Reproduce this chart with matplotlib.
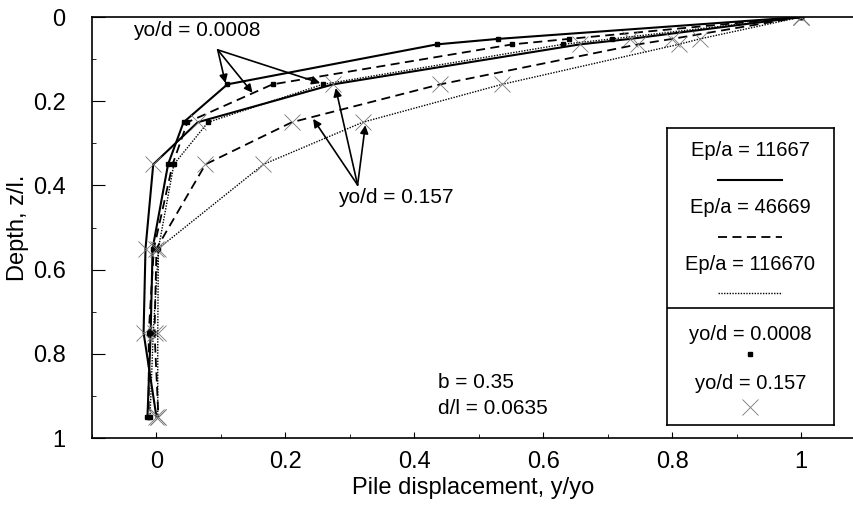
import numpy as np
import matplotlib
matplotlib.use("Agg")
import matplotlib.pyplot as plt
from matplotlib.ticker import MultipleLocator

plt.rcParams['font.family'] = ['Liberation Sans', 'DejaVu Sans']

# normalised depth of the nodes, z/l
depth = [0, 0.052, 0.065, 0.16, 0.25, 0.35, 0.55, 0.75, 0.95]

# pile displacement y/yo, yo/d = 0.0008 (square markers)
disp_11667_small = [1.0, 0.53, 0.435, 0.11, 0.042, 0.018, -0.006, -0.009, -0.014]
disp_46669_small = [1.0, 0.64, 0.552, 0.18, 0.048, 0.025, -0.004, -0.012, -0.012]
disp_116670_small = [1.0, 0.707, 0.63, 0.258, 0.08, 0.027, 0.003, -0.005, -0.01]

# pile displacement y/yo, yo/d = 0.157 (x markers)
disp_11667_large = [1.0, 0.735, 0.657, 0.274, 0.064, -0.005, -0.017, -0.02, 0.0]
disp_46669_large = [1.0, 0.80, 0.747, 0.44, 0.21, 0.076, 0.0, -0.003, 0.003]
disp_116670_large = [1.0, 0.843, 0.81, 0.536, 0.32, 0.166, 0.003, 0.002, 0.002]

ep_labels = ["Ep/a = 11667", "Ep/a = 46669", "Ep/a = 116670"]
yo_labels = ["yo/d = 0.0008", "yo/d = 0.157"]

styles = [dict(linestyle='-', lw=1.5),
          dict(linestyle=(0, (5, 3)), lw=1.3),
          dict(linestyle=(0, (1, 1)), lw=1.0)]
sq_kw = dict(marker='s', markersize=3.5, markerfacecolor='k', markeredgecolor='k')
x_kw = dict(marker='x', markersize=11, markeredgecolor='#777777', markeredgewidth=0.6)

fig = plt.figure(figsize=(8.54, 5.11), dpi=100)
ax = fig.add_axes([92/854, 1-438/511, 1-92/854, 421/511])

small = [disp_11667_small, disp_46669_small, disp_116670_small]
large = [disp_11667_large, disp_46669_large, disp_116670_large]
for st, xs in zip(styles, small):
    ax.plot(xs, depth, color='k', **st, **sq_kw)
for st, xs in zip(styles, large):
    ax.plot(xs, depth, color='k', **st, **x_kw)

ax.set_xlim(-0.1, 1.082)
ax.set_ylim(1, 0)
ax.xaxis.set_minor_locator(MultipleLocator(0.1))
ax.yaxis.set_minor_locator(MultipleLocator(0.1))
ax.set_xticks([0, 0.2, 0.4, 0.6, 0.8, 1])
ax.set_xticklabels(["0", "0.2", "0.4", "0.6", "0.8", "1"])
ax.set_yticks([0, 0.2, 0.4, 0.6, 0.8, 1])
ax.set_yticklabels(["0", "0.2", "0.4", "0.6", "0.8", "1"])
ax.tick_params(axis='both', which='both', direction='in', labelsize=17)
ax.tick_params(axis='x', which='major', length=4, pad=9)
ax.tick_params(axis='x', which='minor', length=3)
ax.tick_params(axis='y', which='major', length=9, pad=19)
ax.tick_params(axis='y', which='minor', length=3)
ax.spines['right'].set_visible(False)
for s in ['left', 'top', 'bottom']:
    ax.spines[s].set_linewidth(1.2)
ax.set_xlabel("Pile displacement, y/yo", fontsize=17, labelpad=3)
ax.set_ylabel("Depth, z/l.", fontsize=17)
ax.yaxis.set_label_coords(-0.083, 0.5)

# annotations with arrows
arr = dict(arrowstyle='-|>', color='k', lw=1.2, mutation_scale=12, shrinkA=0, shrinkB=0)
ax.text(-0.036, 0.033, "yo/d = 0.0008", fontsize=15, va='center', ha='left')
for head in [(0.107, 0.157), (0.149, 0.18), (0.254, 0.157)]:
    ax.annotate("", xy=head, xytext=(0.095, 0.078), arrowprops=arr)
ax.text(0.281, 0.428, "yo/d = 0.157", fontsize=15, va='center', ha='left')
for head in [(0.243, 0.242), (0.278, 0.169), (0.324, 0.257)]:
    ax.annotate("", xy=head, xytext=(0.312, 0.399), arrowprops=arr)

ax.text(0.437, 0.869, "b = 0.35", fontsize=15, va='center', ha='left')
ax.text(0.437, 0.931, "d/l = 0.0635", fontsize=15, va='center', ha='left')

# legend box drawn by hand
lg = fig.add_axes([667/854, 1-425/511, 167/854, 297/511])
lg.set_xlim(0, 1)
lg.set_ylim(0, 1)
lg.set_xticks([])
lg.set_yticks([])
for s in lg.spines.values():
    s.set_linewidth(1.2)
text_y = [0.923, 0.731, 0.539]
line_y = [0.825, 0.633, 0.444]
for lab, ty, ly, st in zip(ep_labels, text_y, line_y, styles):
    lg.text(0.5, ty, lab, fontsize=14.5, ha='center', va='center')
    lg.plot([0.305, 0.689], [ly, ly], color='k', **st)
lg.axhline(0.394, color='k', lw=1.2)
lg.text(0.5, 0.306, yo_labels[0], fontsize=14.5, ha='center', va='center')
lg.plot([0.5], [0.239], linestyle='none', **sq_kw)
lg.text(0.5, 0.141, yo_labels[1], fontsize=14.5, ha='center', va='center')
lg.plot([0.5], [0.061], linestyle='none', **x_kw)

fig.savefig("out.png", dpi=100)
